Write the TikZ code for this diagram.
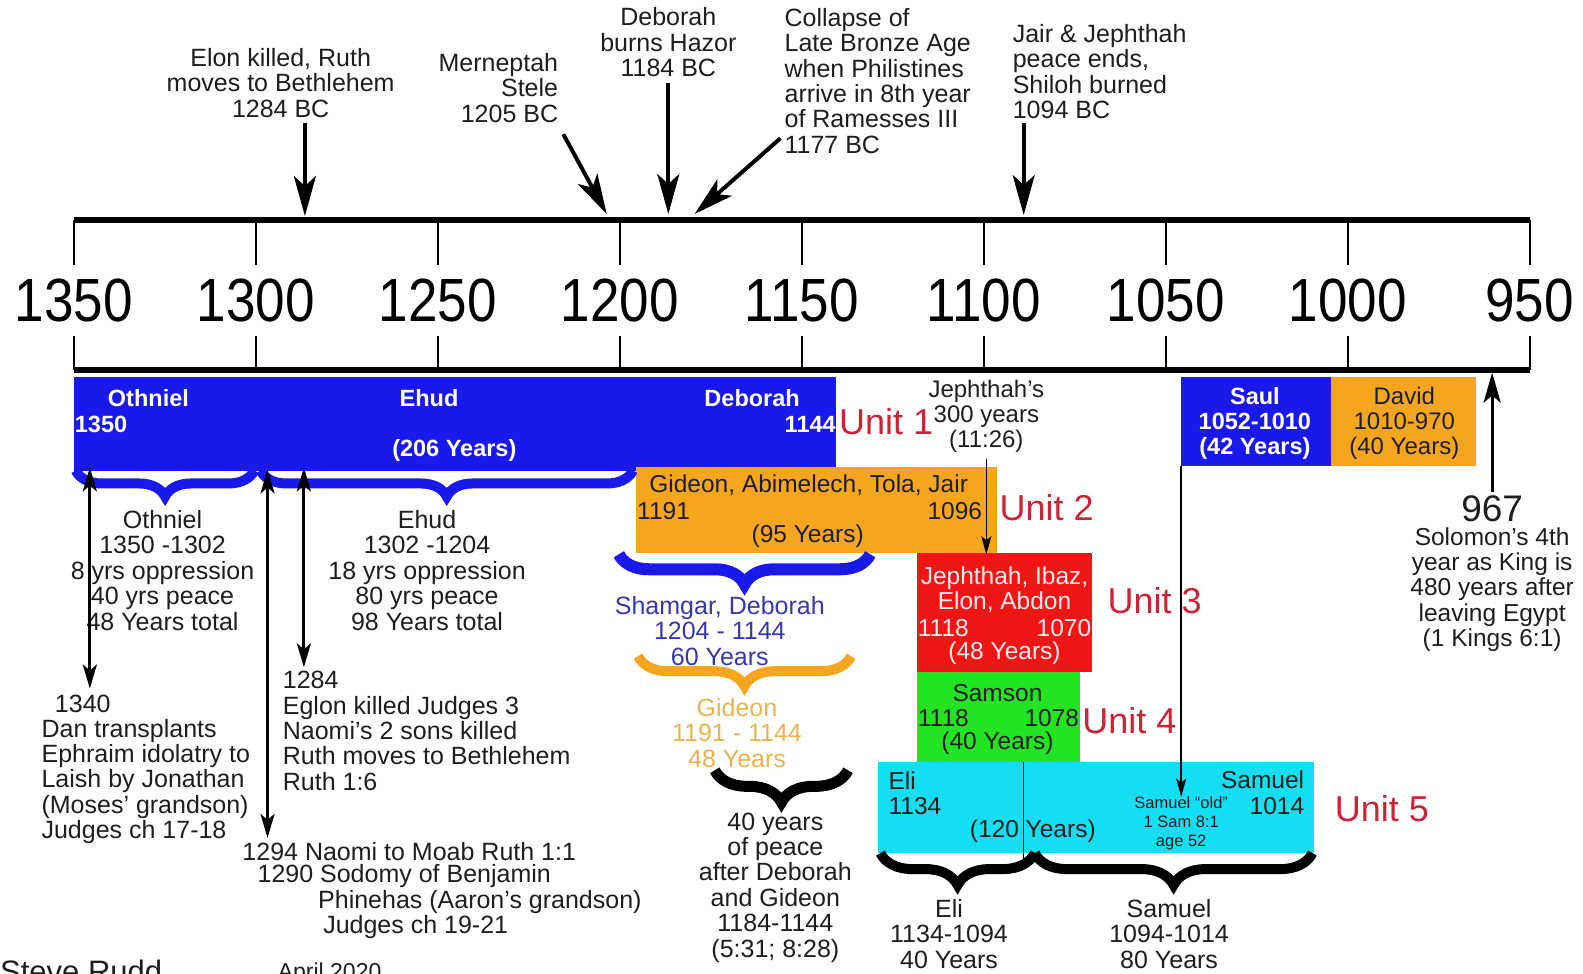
\documentclass[tikz,border=0pt]{standalone}
\usepackage{fontspec}
\setmainfont{Liberation Sans}
\newfontfamily\axisfont[FakeStretch=0.87]{Liberation Sans}
\usetikzlibrary{arrows.meta,decorations.pathreplacing}
\definecolor{txtcol}{RGB}{30,30,30}
\definecolor{barblue}{RGB}{25,25,235}
\definecolor{barorange}{RGB}{246,166,30}
\definecolor{barred}{RGB}{240,22,22}
\definecolor{bargreen}{RGB}{34,228,34}
\definecolor{barcyan}{RGB}{22,222,242}
\definecolor{unitred}{RGB}{205,35,55}
\definecolor{shamcol}{RGB}{55,55,175}
\definecolor{gidcol}{RGB}{232,180,80}
\newcommand\myfs[2]{\fontsize{#1}{#2}\selectfont}
\begin{document}
\begin{tikzpicture}[x=1.0096pt,y=-1.0096pt,
  txt/.style={inner sep=0pt, align=center, text=txtcol, font=\myfs{25}{25.4}},
  bartxt/.style={inner sep=0pt, align=center, text=txtcol, font=\myfs{24.5}{25}},
  wbold/.style={inner sep=0pt, align=center, text=white, font=\bfseries\myfs{23.5}{25}},
  unitlbl/.style={inner sep=0pt, anchor=west, text=unitred, font=\myfs{36}{36}},
  axislbl/.style={inner sep=0pt, text=black, font=\axisfont\myfs{61}{61}},
  bigarrow/.style={line width=4pt, -{Stealth[length=40pt,width=22pt,inset=10pt]}},
  dblarrow/.style={line width=3pt, {Stealth[length=24pt,width=14pt,inset=6pt]}-{Stealth[length=24pt,width=14pt,inset=6pt]}},
  thinarrow/.style={line width=1.6pt, -{Stealth[length=18pt,width=10pt,inset=4pt]}},
  brc/.style={decorate, decoration={brace, mirror, amplitude=#1}},
]
\clip (0,0) rectangle (1568,964);
\fill[white] (0,0) rectangle (1568,964);

% ---------- axis ----------
\draw[line width=6pt] (73,218) -- (1515,218);
\draw[line width=6pt] (73,366) -- (1515,366);
\foreach \yr in {1350,1300,...,950}{
  \pgfmathsetmacro\xx{73+(1350-\yr)*3.605}
  \draw[line width=2pt] (\xx,218) -- (\xx,262);
  \draw[line width=2pt] (\xx,333) -- (\xx,366);
  \node[axislbl] (lab\yr) at (\xx,298) {\yr};
}

% ---------- top events ----------
\node[txt] (elon) at (278,82) {Elon killed, Ruth\\moves to Bethlehem\\1284 BC};
\node[txt, align=right, anchor=east] (mern) at (553,87) {Merneptah\\Stele\\1205 BC};
\node[txt] (hazor) at (662,42) {Deborah\\burns Hazor\\1184 BC};
\node[txt, align=left, anchor=west] (collapse) at (777,80) {Collapse of\\Late Bronze Age\\when Philistines\\arrive in 8th year\\of Ramesses III\\1177 BC};
\node[txt, align=left, anchor=west] (jair) at (1003,71) {Jair \& Jephthah\\peace ends,\\Shiloh burned\\1094 BC};

\coordinate (elonS) at (302,122);   \coordinate (elonT) at (302,214);
\coordinate (mernS) at (558,133);   \coordinate (mernT) at (601,212);
\coordinate (hazS) at (662,82);     \coordinate (hazT) at (662,212);
\coordinate (colS) at (773,137);    \coordinate (colT) at (688,212);
\coordinate (jairS) at (1014,122);  \coordinate (jairT) at (1014,213);
\draw[bigarrow] (elonS) -- (elonT);
\draw[bigarrow] (mernS) -- (mernT);
\draw[bigarrow] (hazS) -- (hazT);
\draw[bigarrow] (colS) -- (colT);
\draw[bigarrow] (jairS) -- (jairT);

% ---------- bars ----------
\fill[barblue] (73,373) rectangle (828,467);
\fill[barblue] (1170,373) rectangle (1318,462);
\fill[barorange] (1318,373) rectangle (1462,462);
\fill[barorange] (630,463) rectangle (988,548);
\fill[barred] (908,548) rectangle (1082,666);
\fill[bargreen] (908,666) rectangle (1070,755);
\fill[barcyan] (870,755) rectangle (1302,845);

% ---------- braces ----------
\draw[brc=26, barblue, line width=10pt] (75,466) -- (252,466);
\draw[brc=26, barblue, line width=10pt] (258,466) -- (627,466);
\draw[brc=30, barblue, line width=12pt] (613,549) -- (862,549);
\draw[brc=30, barorange, line width=10pt] (632,650) -- (843,650);
\draw[brc=32, black, line width=11pt] (708,763) -- (840,763);
\draw[brc=32, black, line width=10pt] (872,845) -- (1025,845);
\draw[brc=32, black, line width=10pt] (1025,845) -- (1300,845);

% ---------- Unit 1 texts ----------
\node[wbold] (othT) at (147,394) {Othniel};
\node[wbold, anchor=west] (oth1350) at (74,420) {1350};
\node[wbold] (ehudT) at (425,394) {Ehud};
\node[wbold] (y206) at (450,446) {(206 Years)};
\node[wbold] (debT) at (745,394) {Deborah};
\node[wbold, anchor=east] (d1144) at (828,420) {1144};
\node[unitlbl] (unit1) at (831,418) {Unit 1};

% ---------- Unit 2 ----------
\node[bartxt] (gidT) at (801,481) {Gideon, Abimelech, Tola, Jair};
\node[bartxt, anchor=west] (g1191) at (631,506) {1191};
\node[bartxt, anchor=east] (g1096) at (973,506) {1096};
\node[bartxt] (y95) at (800,531) {(95 Years)};
\node[unitlbl] (unit2) at (990,503) {Unit 2};

% ---------- Unit 3 ----------
\node[bartxt, text=white!92!red] (jepT) at (995,584) {Jephthah, Ibaz,\\Elon, Abdon};
\node[bartxt, text=white!92!red, anchor=west] (j1118) at (909,622) {1118};
\node[bartxt, text=white!92!red, anchor=east] (j1070) at (1081,622) {1070};
\node[bartxt, text=white!92!red] (y48) at (995,647) {(48 Years)};
\node[unitlbl] (unit3) at (1097,595) {Unit 3};

% ---------- Unit 4 ----------
\node[bartxt] (samT) at (988,686) {Samson};
\node[bartxt, anchor=west] (s1118) at (909,711) {1118};
\node[bartxt, anchor=east] (s1078) at (1069,711) {1078};
\node[bartxt] (y40) at (988,736) {(40 Years)};
\node[unitlbl] (unit4) at (1072,714) {Unit 4};

% ---------- Unit 5 ----------
\node[bartxt, anchor=west] (eliT) at (880,773) {Eli};
\node[bartxt, anchor=west] (e1134) at (880,798) {1134};
\node[bartxt] (y120) at (1023,823) {(120 Years)};
\node[bartxt, anchor=east] (samuT) at (1292,772) {Samuel};
\node[bartxt, anchor=east] (s1014) at (1292,798) {1014};
\node[inner sep=0pt, align=center, text=txtcol, font=\myfs{16.5}{19}] (old) at (1170,815) {Samuel ``old''\\1 Sam 8:1\\age 52};
\node[unitlbl] (unit5) at (1322,801) {Unit 5};
\coordinate (divA) at (1014,755); \coordinate (divB) at (1014,862);
\draw[line width=1.5pt, black] (divA) -- (divB);

% ---------- Saul / David ----------
\node[wbold] (saul) at (1243,419) {Saul\\1052-1010\\(42 Years)};
\node[bartxt, font=\myfs{24}{25}] (david) at (1391,419) {David\\1010-970\\(40 Years)};

% ---------- Jephthah's 300 years ----------
\node[txt, font=\myfs{24}{25}] (j300) at (977,412) {Jephthah's\\300 years\\(11:26)};
\coordinate (j300S) at (977,455); \coordinate (j300T) at (977,549);
\draw[thinarrow] (j300S) -- (j300T);
\coordinate (saulS) at (1170,462); \coordinate (saulT) at (1170,789);
\draw[thinarrow] (saulS) -- (saulT);

% ---------- 967 ----------
\node[inner sep=0pt, text=txtcol, font=\myfs{37}{37}] (n967) at (1478,504) {967};
\node[txt, font=\myfs{24.5}{25.3}] (solomon) at (1478,584) {Solomon's 4th\\year as King is\\480 years after\\leaving Egypt\\(1 Kings 6:1)};
\coordinate (solS) at (1478,487); \coordinate (solT) at (1478,369);
\draw[line width=3pt, -{Stealth[length=30pt,width=17pt,inset=7pt]}] (solS) -- (solT);

% ---------- summaries under Unit 1 ----------
\node[txt] (othS) at (161,565) {Othniel\\1350 -1302\\8 yrs oppression\\40 yrs peace\\48 Years total};
\node[txt] (ehudS) at (423,565) {Ehud\\1302 -1204\\18 yrs oppression\\80 yrs peace\\98 Years total};

\node[txt] (shamgar) at (713,625) {\textcolor{shamcol}{Shamgar, Deborah}\\\textcolor{shamcol}{1204 - 1144}\\\textcolor{shamcol}{60 Years}};
\node[txt] (gideonS) at (730,726) {\textcolor{gidcol}{Gideon}\\\textcolor{gidcol}{1191 - 1144}\\\textcolor{gidcol}{48 Years}};
\node[txt] (peace) at (768,879) {40 years\\of peace\\after Deborah\\and Gideon\\1184-1144\\(5:31; 8:28)};
\node[txt] (eliS) at (940,925) {Eli\\1134-1094\\40 Years};
\node[txt] (samuS) at (1158,925) {Samuel\\1094-1014\\80 Years};

% ---------- left events ----------
\coordinate (a1T) at (89,463); \coordinate (a1B) at (89,682);
\coordinate (a2T) at (265,465); \coordinate (a2B) at (265,830);
\coordinate (a3T) at (301,463); \coordinate (a3B) at (301,661);
\draw[dblarrow] (a1B) -- (a1T);
\draw[dblarrow] (a2B) -- (a2T);
\draw[dblarrow] (a3B) -- (a3T);

\node[txt] (d1340) at (82,697) {1340};
\node[txt, align=left, anchor=west] (dan) at (41,774) {Dan transplants\\Ephraim idolatry to\\Laish by Jonathan\\(Moses' grandson)\\Judges ch 17-18};
\node[txt, align=left, anchor=west] (eglon) at (280,724) {1284\\Eglon killed Judges 3\\Naomi's 2 sons killed\\Ruth moves to Bethlehem\\Ruth 1:6};
\node[txt, anchor=west] (naomi) at (240,843) {1294 Naomi to Moab Ruth 1:1};
\node[txt, anchor=west] (sodomy) at (255,868) {1290 Sodomy of Benjamin};
\node[txt, anchor=west] (phin) at (315,893) {Phinehas (Aaron's grandson)};
\node[txt, anchor=west] (jud1921) at (320,918) {Judges ch 19-21};

% ---------- footer (cut by the frame) ----------
\node[inner sep=0pt, anchor=base west, text=txtcol, font=\myfs{31}{31}] (rudd) at (0,973) {Steve Rudd};
\node[inner sep=0pt, anchor=base west, text=txtcol, font=\myfs{23}{23}] (april) at (275,970) {April 2020};
\end{tikzpicture}
\end{document}
